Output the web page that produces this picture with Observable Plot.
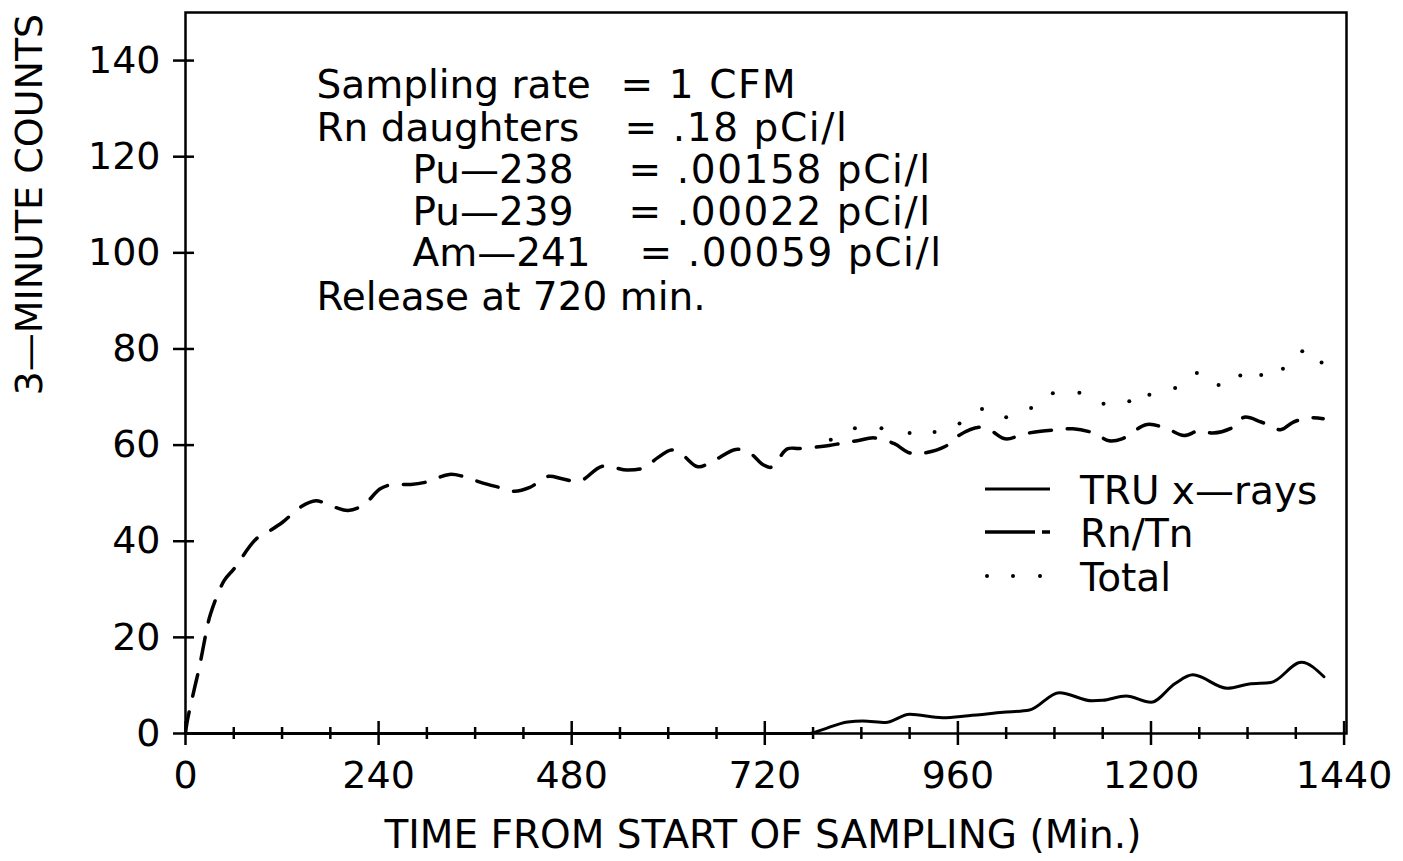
<!DOCTYPE html>
<html>
<head>
<meta charset="utf-8">
<script src="https://cdn.jsdelivr.net/npm/d3@7"></script>
<script src="https://cdn.jsdelivr.net/npm/@observablehq/plot@0.6"></script>
<style>
  html, body { margin: 0; padding: 0; background: #fff; }
  #chart { width: 1403px; height: 861px; }
</style>
</head>
<body>
<div id="chart"></div>
<script>
// ---------- data ----------
const rnTime = [0, 2, 12, 17, 26, 31, 48, 60, 88, 105, 121, 143, 162, 185, 202, 221, 242, 257, 280, 299, 328, 345, 366, 390, 409, 428, 451, 468, 490, 518, 549, 570, 587, 604, 618, 637, 658, 684, 701, 718, 728, 748, 763, 800, 816, 835, 856, 881, 898, 912, 944, 961, 986, 1001, 1019, 1042, 1063, 1085, 1103, 1129, 1148, 1164, 1195, 1220, 1241, 1260, 1277, 1302, 1316, 1337, 1361, 1377, 1398, 1414];
const rnCounts = [0, 2.4, 10, 13.6, 21.3, 24.8, 31.8, 34.2, 40.5, 42.2, 44, 47.1, 48.4, 47.1, 46.4, 47.5, 50.9, 51.8, 51.8, 52.3, 53.9, 53.5, 52.3, 51.2, 50.4, 51.2, 53.5, 53, 52.5, 55.6, 54.8, 55.3, 57.4, 59, 57.9, 55.5, 56.9, 59.1, 58.4, 55.9, 55.4, 59.2, 59.3, 59.9, 60.4, 60.9, 61.5, 60.3, 58.5, 58.2, 59.7, 62, 63.7, 63, 61.3, 62.3, 62.9, 63.2, 63.4, 62.5, 60.9, 61.3, 64.3, 63.4, 62, 63, 62.5, 63.7, 65.8, 64.8, 63.2, 64.8, 65.7, 65.5];

const truTime = [0, 240, 480, 720, 776, 790, 823, 842, 870, 900, 941, 973, 1016, 1049, 1086, 1127, 1140, 1169, 1200, 1230, 1252, 1295, 1322, 1349, 1387, 1415];
const truCounts = [0, 0, 0, 0, 0, 0.7, 2.4, 2.6, 2.3, 4.0, 3.3, 3.7, 4.4, 4.9, 8.5, 6.8, 6.9, 7.8, 6.5, 10.4, 12.2, 9.4, 10.3, 10.6, 14.8, 11.8];

const totalTime = [802, 832, 865, 900, 931, 962, 990, 1020, 1051, 1078, 1111, 1141, 1173, 1198, 1230, 1257, 1284, 1311, 1337, 1364, 1388, 1412];
const totalCounts = [61.1, 63.5, 63.5, 62.5, 62.7, 64.5, 67.5, 65.8, 67.7, 70.8, 70.9, 68.6, 69.1, 70.5, 71.9, 75, 72.5, 74.5, 74.6, 75.9, 79.5, 77.2];

const xMajorTicks = [0, 240, 480, 720, 960, 1200, 1440];
const xMinorTicks = [60, 120, 180, 300, 360, 420, 540, 600, 660, 780, 840, 900, 1020, 1080, 1140, 1260, 1320, 1380];
const yTicks = [0, 20, 40, 60, 80, 100, 120, 140];

const annotationLeft = ["Sampling rate", "Rn daughters", "Pu\u2014238", "Pu\u2014239", "Am\u2014241", "Release at 720 min."];
const annotationRight = ["= 1 CFM", "= .18 pCi/l", "= .00158 pCi/l", "= .00022 pCi/l", "= .00059 pCi/l", ""];
const legendLabels = ["TRU x\u2014rays", "Rn/Tn", "Total"];
const xLabel = "TIME FROM START OF SAMPLING (Min.)";
const yLabel = "3\u2014MINUTE COUNTS";

// ---------- tables ----------
const rn = rnTime.map((t, i) => ({t, v: rnCounts[i]}));
const tru = truTime.map((t, i) => ({t, v: truCounts[i]}));
const total = totalTime.map((t, i) => ({t, v: totalCounts[i]}));

// ---------- layout ----------
const W = 1403, H = 861;
const mL = 185, mR = 57, mT = 12, mB = 128;
const FONT = "'DejaVu Sans', 'Liberation Sans', sans-serif";
const annoLineY = [85, 128, 170, 212, 253, 297];
const annoLeftX = [316, 316, 412, 412, 412, 316];
const annoEqX = [620, 624, 628, 628, 639, 0];

const annoMarks = [];
annotationLeft.forEach((s, i) => {
  annoMarks.push(Plot.text([s], {text: d => d, frameAnchor: "top-left", dx: annoLeftX[i] - mL, dy: annoLineY[i] - mT,
    textAnchor: "start", lineAnchor: "middle", fontSize: 39, fill: "#000"}));
  if (annotationRight[i]) {
    annoMarks.push(Plot.text([annotationRight[i]], {text: d => d, frameAnchor: "top-left", dx: annoEqX[i] - mL, dy: annoLineY[i] - mT,
      textAnchor: "start", lineAnchor: "middle", fontSize: 39, fill: "#000"}));
  }
});

const chart = Plot.plot({
  width: W, height: H,
  marginLeft: mL, marginRight: mR, marginTop: mT, marginBottom: mB,
  x: {domain: [0, 1443], label: null},
  y: {domain: [0, 150], label: null},
  style: {fontFamily: FONT, fontSize: "38px", color: "#000", background: "#fff", overflow: "visible"},
  marks: [
    Plot.frame({stroke: "#000", strokeWidth: 2.5}),
    Plot.axisX({ticks: xMajorTicks, tickSize: 0, tickPadding: 28, fontSize: 38, label: null, tickFormat: d => `${d}`}),
    Plot.axisY({ticks: yTicks, tickSize: 0, tickPadding: 25, fontSize: 38, label: null, tickFormat: d => `${d}`}),
    Plot.ruleY(yTicks, {x1: 0, x2: 0, insetLeft: -12, insetRight: -9, stroke: "#000", strokeWidth: 2.5}),
    Plot.ruleX(xMinorTicks, {y1: 0, y2: 0, insetTop: -6, insetBottom: -6, stroke: "#000", strokeWidth: 2.5}),
    Plot.ruleX(xMajorTicks, {y1: 0, y2: 0, insetTop: -12, insetBottom: -12, stroke: "#000", strokeWidth: 2.5}),
    Plot.line(tru, {x: "t", y: "v", curve: "monotone-x", stroke: "#000", strokeWidth: 3}),
    Plot.line(rn, {x: "t", y: "v", curve: "catmull-rom", stroke: "#000", strokeWidth: 3.5, strokeDasharray: "22 16", strokeLinecap: "round"}),
    Plot.dot(total, {x: "t", y: "v", r: 2, fill: "#000", stroke: null}),
    ...annoMarks,
    Plot.text([xLabel], {text: d => d, frameAnchor: "bottom", dx: -3, dy: 102, lineAnchor: "middle", fontSize: 39, fill: "#000"}),
    Plot.text([yLabel], {text: d => d, frameAnchor: "left", dx: 29 - mL, dy: 22.5, rotate: -90, lineAnchor: "middle", fontSize: 38, fill: "#000"})
  ]
});

// ---------- legend ----------
const svg = d3.select(chart);
svg.selectAll("text").filter(function () { return this.textContent.startsWith("= "); }).attr("letter-spacing", "1.6px");
const lg = svg.append("g").attr("font-family", FONT).attr("font-size", 39).attr("fill", "#000").attr("text-anchor", "start");
const legY = [489, 532, 576];
lg.append("line").attr("x1", 985).attr("x2", 1050).attr("y1", legY[0]).attr("y2", legY[0]).attr("stroke", "#000").attr("stroke-width", 3);
lg.append("line").attr("x1", 985).attr("x2", 1035).attr("y1", legY[1]).attr("y2", legY[1]).attr("stroke", "#000").attr("stroke-width", 3.5);
lg.append("line").attr("x1", 1042).attr("x2", 1050).attr("y1", legY[1]).attr("y2", legY[1]).attr("stroke", "#000").attr("stroke-width", 3.5);
[987, 1013, 1040].forEach(x => lg.append("circle").attr("cx", x).attr("cy", legY[2]).attr("r", 2).attr("fill", "#000"));
legendLabels.forEach((s, i) => {
  lg.append("text").attr("x", 1080).attr("y", legY[i] + 1).attr("dy", "0.35em").attr("text-anchor", "start").text(s);
});

document.getElementById("chart").appendChild(chart);
</script>
</body>
</html>
